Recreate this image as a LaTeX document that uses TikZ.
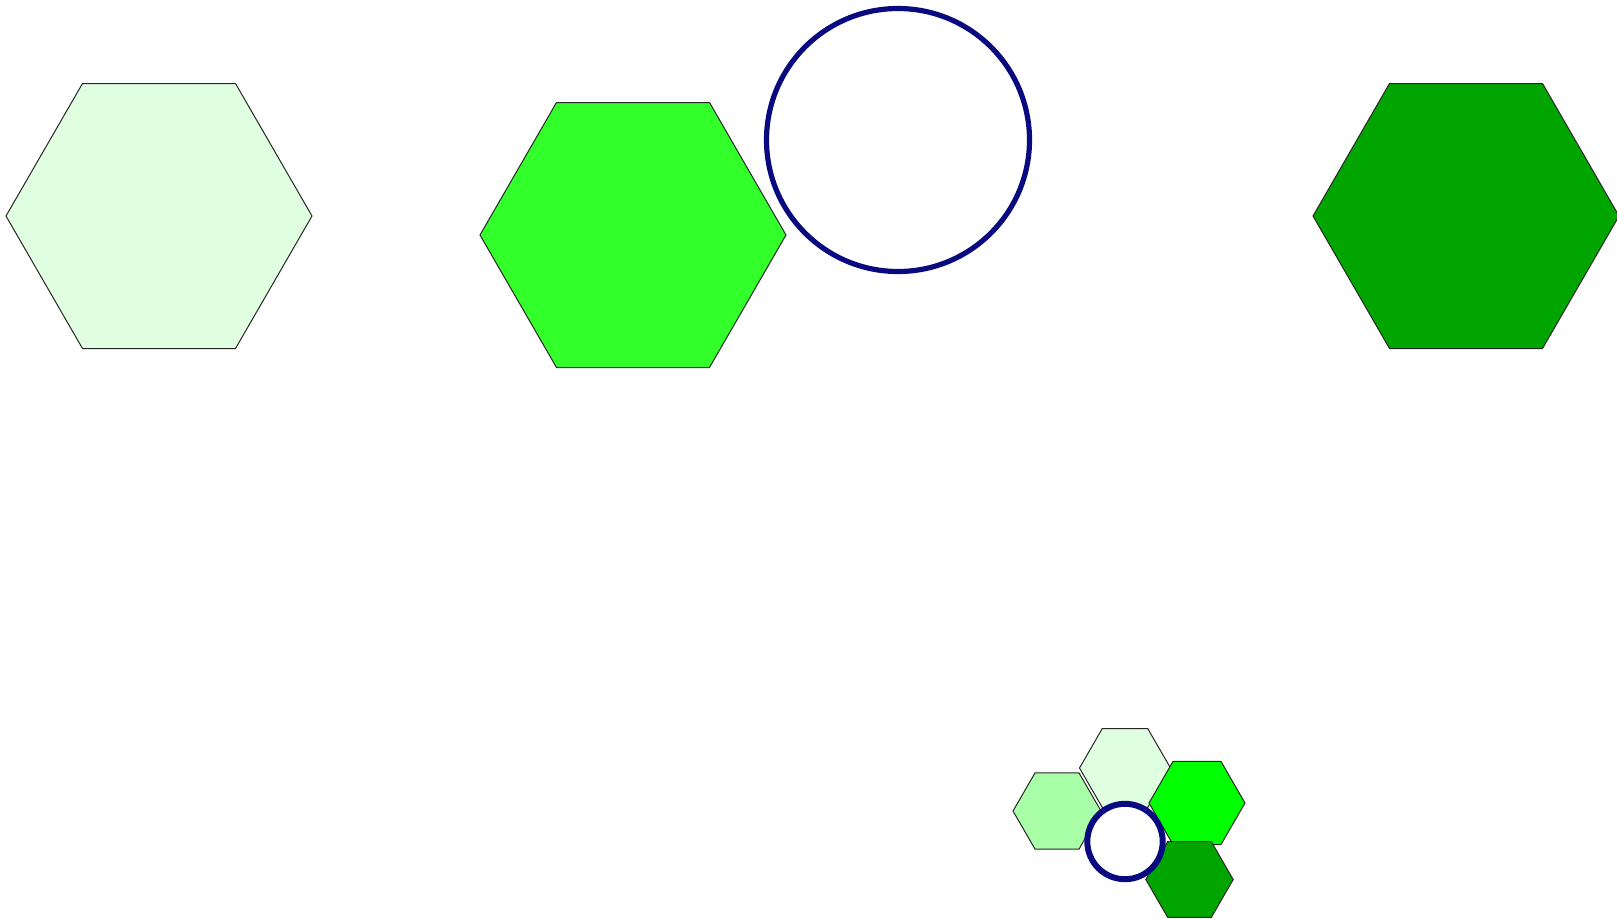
\documentclass[tikz,border=0pt]{standalone}
\usepackage{tikz}
\usepackage{xcolor}

\definecolor{hexmint}{HTML}{E0FFE0}
\definecolor{hexlime}{HTML}{33FF2B}
\definecolor{hexforest}{HTML}{00A500}
\definecolor{hexpale}{HTML}{A8FFA8}
\definecolor{hexgreen}{HTML}{00FF00}
\definecolor{ringblue}{HTML}{0A0A80}

\begin{document}
\begin{tikzpicture}[x=0.75pt,y=-0.75pt,
  hexa/.style={draw=black!85,line width=0.75pt,line join=miter},
  ring/.style={draw=ringblue,fill=white}]
  \useasboundingbox (0,0) rectangle (1617,918);
  \clip (0,0) rectangle (1617,918);
  \coordinate (A) at (159,216);
  \coordinate (B) at (633,235);
  \coordinate (O) at (898,140);
  \coordinate (D) at (1466,216);
  \coordinate (a) at (1125,768);
  \coordinate (b) at (1057,811);
  \coordinate (c) at (1197,803);
  \coordinate (d) at (1189.5,879.5);
  \coordinate (o) at (1125,841.5);
  \draw[hexa,fill=hexmint] (A) ++(0:153) -- ++(120:153) -- ++(180:153) -- ++(240:153) -- ++(300:153) -- ++(0:153) -- cycle;
  \draw[hexa,fill=hexlime] (B) ++(0:153) -- ++(120:153) -- ++(180:153) -- ++(240:153) -- ++(300:153) -- ++(0:153) -- cycle;
  \draw[ring,line width=3.9pt] (O) circle[radius=131.5];
  \draw[hexa,fill=hexforest] (D) ++(0:153) -- ++(120:153) -- ++(180:153) -- ++(240:153) -- ++(300:153) -- ++(0:153) -- cycle;
  \draw[hexa,fill=hexmint] (a) ++(0:45.5) -- ++(120:45.5) -- ++(180:45.5) -- ++(240:45.5) -- ++(300:45.5) -- ++(0:45.5) -- cycle;
  \draw[hexa,fill=hexpale] (b) ++(0:44) -- ++(120:44) -- ++(180:44) -- ++(240:44) -- ++(300:44) -- ++(0:44) -- cycle;
  \draw[hexa,fill=hexgreen] (c) ++(0:48) -- ++(120:48) -- ++(180:48) -- ++(240:48) -- ++(300:48) -- ++(0:48) -- cycle;
  \draw[hexa,fill=hexforest] (d) ++(0:43.7) -- ++(120:43.7) -- ++(180:43.7) -- ++(240:43.7) -- ++(300:43.7) -- ++(0:43.7) -- cycle;
  \draw[ring,line width=4.5pt] (o) circle[radius=37.7];
\end{tikzpicture}
\end{document}
